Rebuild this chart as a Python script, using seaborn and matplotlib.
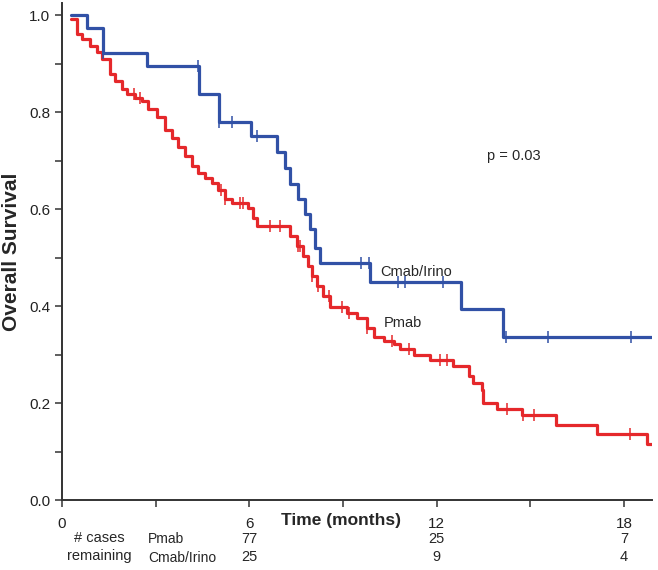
import numpy as np
import matplotlib
matplotlib.use("Agg")
import matplotlib.pyplot as plt
import seaborn as sns

# ===============================
# DATA
# ===============================
# Cmab/Irino: time of each step (months) and survival after it
cmab_time = [0.29, 0.79, 1.32, 2.73, 4.40, 5.04, 6.06, 6.88, 7.15, 7.29, 7.57,
             7.79, 7.95, 8.11, 8.25, 9.87, 12.78, 14.12, 18.9]
cmab_surv = [1.000, 0.973, 0.921, 0.894, 0.837, 0.780, 0.751, 0.718, 0.685, 0.651, 0.621,
             0.589, 0.558, 0.520, 0.488, 0.449, 0.393, 0.337, 0.337]
cmab_censor = [1.32, 4.37, 5.04, 5.44, 6.26, 9.58, 9.82, 10.75, 10.99, 12.2,
               14.23, 15.57, 18.23]

# Pmab
pmab_time = [0.29, 0.47, 0.63, 0.90, 1.11, 1.27, 1.54, 1.70, 1.91, 2.07, 2.34, 2.55,
             2.77, 3.04, 3.30, 3.52, 3.73, 3.94, 4.16, 4.37, 4.58, 4.80, 5.01, 5.22,
             5.44, 5.97, 6.13, 6.25, 7.31, 7.52, 7.73, 7.89, 8.00, 8.16, 8.37, 8.59,
             9.12, 9.45, 9.77, 10.00, 10.30, 10.62, 10.83, 11.26, 11.79, 12.54, 13.05,
             13.18, 13.45, 13.50, 13.95, 14.73, 15.83, 17.14, 18.74, 18.9]
pmab_surv = [0.992, 0.961, 0.950, 0.937, 0.923, 0.909, 0.878, 0.864, 0.847, 0.837, 0.830, 0.823,
             0.806, 0.789, 0.764, 0.747, 0.727, 0.709, 0.689, 0.675, 0.665, 0.654, 0.640, 0.620,
             0.613, 0.603, 0.582, 0.566, 0.544, 0.523, 0.503, 0.482, 0.461, 0.441, 0.420, 0.399,
             0.386, 0.375, 0.355, 0.337, 0.327, 0.322, 0.312, 0.300, 0.289, 0.277, 0.255,
             0.241, 0.227, 0.201, 0.187, 0.176, 0.155, 0.136, 0.116, 0.116]
pmab_censor = [2.3, 2.5, 5.09, 5.22, 5.70, 5.81, 6.67, 6.99, 7.57, 7.63, 8.0, 8.2, 8.54,
               8.96, 9.18, 9.77, 10.57, 11.1, 12.1, 12.33, 14.25, 14.78, 15.13, 18.18]

# numbers at risk
risk_times = [6, 12, 18]
risk_pmab = [77, 25, 7]
risk_cmab = [25, 9, 4]

BLUE = "#3151a6"
RED = "#e5282b"
FONT = ["Liberation Sans", "DejaVu Sans"]


def surv_at(times, surv, t):
    i = np.searchsorted(times, t, side="right") - 1
    return surv[max(i, 0)]


sns.set_style("ticks")
plt.rcParams["font.family"] = FONT

fig = plt.figure(figsize=(6.58, 5.70), dpi=100)
ax = fig.add_axes([0.0942, 0.1228, 0.8967, 0.872])

# ===============================
# CURVES
# ===============================
for t, s, c, col in [(pmab_time, pmab_surv, pmab_censor, RED),
                     (cmab_time, cmab_surv, cmab_censor, BLUE)]:
    sns.lineplot(x=t, y=s, drawstyle="steps-post", estimator=None,
                 color=col, linewidth=2.3, ax=ax)
    cy = [surv_at(t, s, ct) for ct in c]
    ax.plot(c, cy, linestyle="none", marker="|", markersize=8,
            markeredgewidth=1.1, color=col)

# ===============================
# AXES
# ===============================
ax.set_xlim(0, 18.9)
ax.set_ylim(0, 1.025)
ax.set_xticks([0, 6, 12, 18])
ax.set_xticks([3, 9, 15], minor=True)
ax.set_yticks(np.arange(0, 1.01, 0.2))
ax.set_yticks(np.arange(0.1, 1.0, 0.2), minor=True)
ax.set_yticklabels([f"{v:.1f}" for v in np.arange(0, 1.01, 0.2)])
ax.tick_params(which="both", direction="out", length=5, width=1.1, color="#333333",
               labelsize=11, labelcolor="#222222")
ax.tick_params(axis="x", pad=7)
sns.despine(ax=ax)
for sp in ["left", "bottom"]:
    ax.spines[sp].set_linewidth(1.4)
    ax.spines[sp].set_color("#333333")

ax.set_ylabel("Overall Survival", fontsize=15, fontweight="bold", labelpad=6)
ax.set_xlabel("")

# ===============================
# ANNOTATIONS
# ===============================
ax.text(13.6, 0.709, "p = 0.03", fontsize=10.5, va="center", ha="left")
ax.text(10.19, 0.471, "Cmab/Irino", fontsize=10.5, va="center", ha="left")
ax.text(10.32, 0.366, "Pmab", fontsize=10.5, va="center", ha="left")

fig.text(341 / 658, 1 - 520 / 570, "Time (months)", fontsize=12.5,
         fontweight="bold", ha="center", va="center")

# numbers at risk table
tr = ax.get_xaxis_transform()
ax.text(1.2, -0.077, "# cases", transform=tr, fontsize=10.5,
        ha="center", va="center", clip_on=False)
ax.text(1.2, -0.113, "remaining", transform=tr, fontsize=10.5,
        ha="center", va="center", clip_on=False)
ax.text(2.75, -0.079, "Pmab", transform=tr, fontsize=10,
        ha="left", va="center", clip_on=False)
ax.text(2.75, -0.116, "Cmab/Irino", transform=tr, fontsize=10,
        ha="left", va="center", clip_on=False)
for x, a, b in zip(risk_times, risk_pmab, risk_cmab):
    ax.text(x, -0.078, str(a), transform=tr, fontsize=10.5,
            ha="center", va="center", clip_on=False)
    ax.text(x, -0.115, str(b), transform=tr, fontsize=10.5,
            ha="center", va="center", clip_on=False)

fig.savefig("out.png", dpi=100)
